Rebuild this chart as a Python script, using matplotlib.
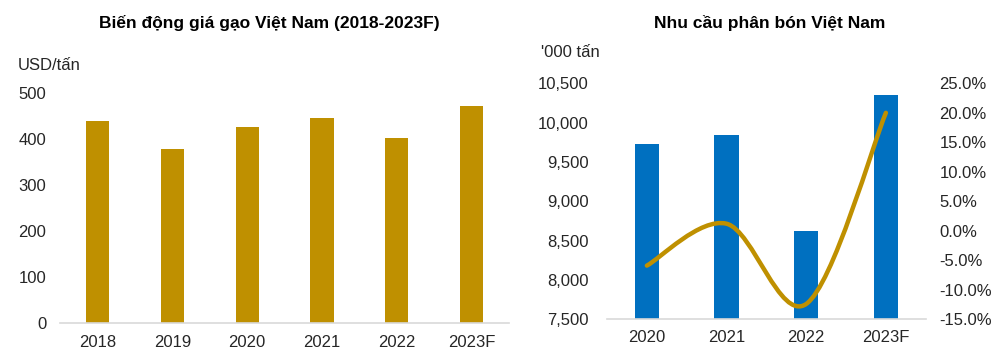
import numpy as np
import matplotlib
matplotlib.use('Agg')
import matplotlib.pyplot as plt
from matplotlib.path import Path
from matplotlib.patches import PathPatch
from matplotlib.ticker import FuncFormatter

# Left chart data: rice price (USD/tan)
rice_years = ['2018', '2019', '2020', '2021', '2022', '2023F']
rice_price = [439, 379, 427, 446, 403, 472]

# Right chart data: fertilizer demand ('000 tan) and growth (%)
fert_years = ['2020', '2021', '2022', '2023F']
fert_demand = [9725, 9843, 8626, 10355]
fert_growth = [-5.9, 1.2, -12.4, 20.0]

gold = '#BF9000'
blue = '#0070C0'
text_col = '#262626'
spine_col = '#D9D9D9'

plt.rcParams['font.family'] = ['Liberation Sans', 'DejaVu Sans']
plt.rcParams['font.size'] = 12

fig = plt.figure(figsize=(10.07, 3.64), dpi=100)

# Helper: Excel-like smoothed line as cubic Bezier path
def smooth_path(xs, ys):
    pts = np.column_stack([xs, ys]).astype(float)
    n = len(pts)
    verts = [tuple(pts[0])]
    codes = [Path.MOVETO]
    for i in range(n - 1):
        p0 = pts[max(i - 1, 0)]
        p1 = pts[i]
        p2 = pts[i + 1]
        p3 = pts[min(i + 2, n - 1)]
        c1 = p1 + (p2 - p0) / 6.0
        c2 = p2 - (p3 - p1) / 6.0
        verts += [tuple(c1), tuple(c2), tuple(p2)]
        codes += [Path.CURVE4] * 3
    return Path(verts, codes)

def style_axis(ax):
    for s in ['top', 'right', 'left']:
        ax.spines[s].set_visible(False)
    ax.spines['bottom'].set_color(spine_col)
    ax.spines['bottom'].set_linewidth(1.2)
    ax.tick_params(length=0, colors=text_col, labelsize=12)

# ---- Left chart ----
ax1 = fig.add_axes([0.0596, 0.1135, 0.4459, 0.630])
x1 = np.arange(len(rice_years))
ax1.bar(x1, rice_price, width=0.31, color=gold)
ax1.set_xlim(-0.5, len(rice_years) - 0.5)
ax1.set_ylim(0, 500)
ax1.set_yticks(range(0, 501, 100))
ax1.set_xticks(x1)
ax1.set_xticklabels(rice_years)
style_axis(ax1)
ax1.tick_params(axis='y', pad=10)
ax1.tick_params(axis='x', pad=9)
fig.text(0.267, 0.937, 'Biến động giá gạo Việt Nam (2018-2023F)', ha='center', va='center',
         fontsize=12.5, fontweight='bold', color='black')
fig.text(0.018, 0.821, 'USD/tấn', ha='left', va='center', fontsize=12, color=text_col)

# ---- Right chart ----
ax2 = fig.add_axes([0.6028, 0.1228, 0.3165, 0.6484])
x2 = np.arange(len(fert_years))
ax2.bar(x2, fert_demand, width=0.305, color=blue)
ax2.set_xlim(-0.5, len(fert_years) - 0.5)
ax2.set_ylim(7500, 10500)
ax2.set_yticks(range(7500, 10501, 500))
ax2.yaxis.set_major_formatter(FuncFormatter(lambda v, p: f'{v:,.0f}'))
ax2.set_xticks(x2)
ax2.set_xticklabels(fert_years)
style_axis(ax2)
ax2.tick_params(axis='y', pad=13)
ax2.tick_params(axis='x', pad=8)

ax3 = ax2.twinx()
ax3.set_ylim(-15, 25)
ax3.set_yticks(range(-15, 26, 5))
ax3.yaxis.set_major_formatter(FuncFormatter(lambda v, p: f'{v:.1f}%'))
for s in ['top', 'right', 'left', 'bottom']:
    ax3.spines[s].set_visible(False)
ax3.tick_params(length=0, colors=text_col, labelsize=12, pad=10)
for lbl in ax3.get_yticklabels():
    lbl.set_horizontalalignment('left')
line = PathPatch(smooth_path(x2, fert_growth), facecolor='none', edgecolor=gold,
                 linewidth=3.2, capstyle='round', joinstyle='round')
ax3.add_patch(line)

fig.text(0.764, 0.937, 'Nhu cầu phân bón Việt Nam', ha='center', va='center',
         fontsize=12.5, fontweight='bold', color='black')
fig.text(0.537, 0.855, "'000 tấn", ha='left', va='center', fontsize=12, color=text_col)

fig.savefig('out.png', dpi=100)
